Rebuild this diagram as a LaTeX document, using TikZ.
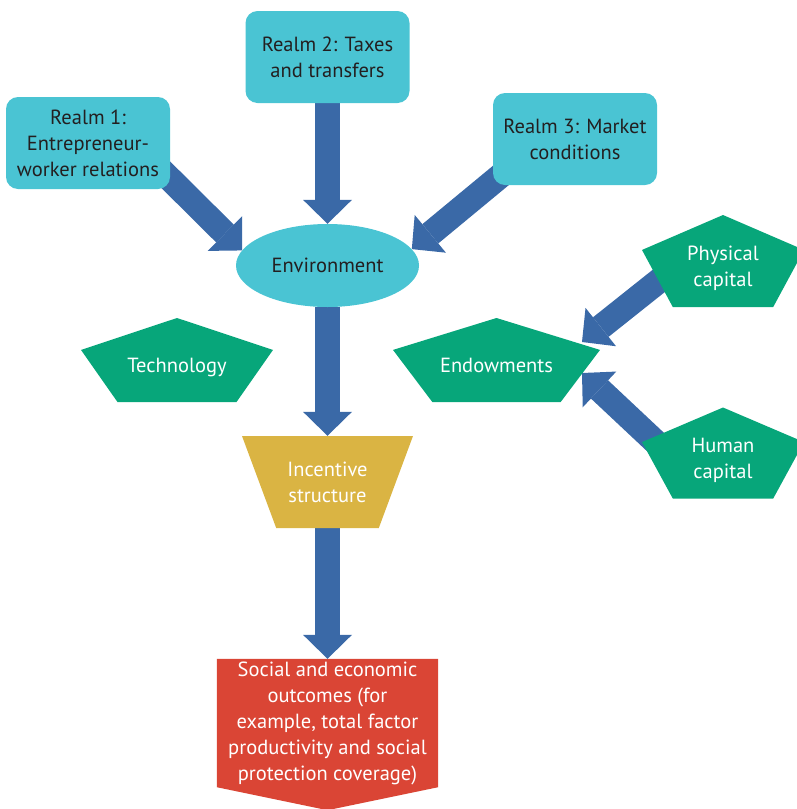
\documentclass[tikz,border=0pt]{standalone}
\usepackage{fontspec}
\setmainfont{PT Sans}
\usetikzlibrary{arrows.meta,calc,backgrounds,shapes.geometric}
\definecolor{realmcyan}{HTML}{4AC4D3}
\definecolor{arrowblue}{HTML}{3A69A7}
\definecolor{endowgreen}{HTML}{07A67A}
\definecolor{incgold}{HTML}{DAB443}
\definecolor{outred}{HTML}{DA4535}
\definecolor{inkdark}{HTML}{231F20}
% pentagon labels sit a little low
\newcommand\sunk[1]{\raisebox{-7pt}[\height][\depth]{\begin{tabular}{@{}c@{}}#1\end{tabular}}}

\begin{document}
\begin{tikzpicture}[x=1pt,y=-1pt,
  font=\fontsize{20.5}{26}\selectfont,
  realm/.style={fill=realmcyan, rounded corners=12pt, minimum width=164pt,
    minimum height=92pt, inner sep=0pt, text=inkdark, align=center},
  pentagon/.style={minimum height=84pt, inner sep=0pt, text=white, align=center,
    path picture={
      \path (path picture bounding box.north west) coordinate (nw)
            (path picture bounding box.south east) coordinate (se);
      \fill[endowgreen] ($(nw)!.5!(nw-|se)$) -- ($(nw-|se)!.38!(se)$)
        -- ($(se)!.19!(se-|nw)$) -- ($(se-|nw)!.19!(se)$)
        -- ($(nw)!.38!(se-|nw)$) -- cycle;}},
  funnel/.style={minimum width=171pt, minimum height=92pt, inner sep=0pt,
    text=white, align=center,
    path picture={
      \path (path picture bounding box.north west) coordinate (nw)
            (path picture bounding box.south east) coordinate (se);
      \fill[incgold] (nw) -- (nw-|se) -- ($(se)!.2!(se-|nw)$)
        -- ($(se-|nw)!.2!(se)$) -- cycle;}},
  flow/.style={draw=arrowblue, line width=25pt,
    -{Triangle[width=49pt,length=24pt,line width=0pt]}}]
\useasboundingbox (0,0) rectangle (797,809);

\node[realm] (r1) at (88,143) {Realm 1:\\Entrepreneur-\\worker relations};
\node[realm] (r2) at (327.5,57) {Realm 2: Taxes\\and transfers};
\node[realm] (r3) at (575,139) {Realm 3: Market\\conditions};
\node[ellipse, fill=realmcyan, minimum width=183pt, minimum height=83pt,
  inner sep=0pt, text=inkdark] (env) at (327.5,265.5) {Environment};

\node[pentagon, minimum width=192pt] (tech) at (177,360) {\sunk{Technology}};
\node[pentagon, minimum width=207pt] (endow) at (496.5,360) {\sunk{Endowments}};
\node[pentagon, minimum width=162pt, minimum height=92pt] (phys) at (723,261) {\sunk{Physical\\capital}};
\node[pentagon, minimum width=162pt, minimum height=91pt] (human) at (723,453) {\sunk{Human\\capital}};

\node[funnel] (inc) at (327.5,482) {Incentive\\structure};
\node[minimum width=221pt, minimum height=128pt, inner sep=0pt, text=white,
  align=center] (out) at (327.5,723)
  {Social and economic\\outcomes (for\\example, total factor\\productivity and social\\protection coverage)};

\begin{pgfonlayer}{background}
\fill[outred] (out.north west) -- (out.north east) -- (out.south east)
  -- ($(out.south)+(0,23)$) -- (out.south west) -- cycle;
\draw[flow] (r2.south) -- (env.north);
\draw[flow] ($(r1.south east)+(-10,-20)$) -- (env.170);
\draw[flow] ($(r3.south west)+(12,-13)$) -- (env.11);
\draw[flow] (env.south) -- (inc.north);
\draw[flow] (inc.south) -- (out.north);
\draw[flow] ($(phys.center)+(-43,3)$) -- ($(endow.center)+(85.5,-18)$);
\draw[flow] ($(human.center)+(-43,12)$) -- ($(endow.center)+(85.5,13)$);
\end{pgfonlayer}
\end{tikzpicture}
\end{document}
